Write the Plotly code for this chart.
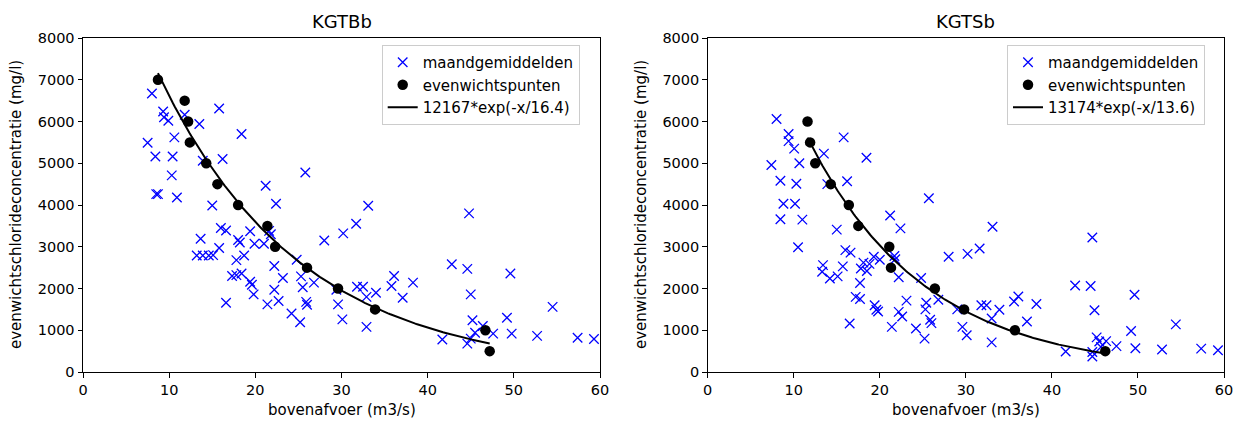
import numpy as np
import plotly.graph_objects as go
from plotly.subplots import make_subplots

# ---------------- KGTBb ----------------
kgtbb_maand_q = [
    7.5, 8.0, 8.4, 8.5, 8.7, 9.3, 9.4, 9.9, 10.4, 10.3, 10.6, 10.9, 11.8, 13.5, 13.9,
    15.8, 16.2, 18.4, 15.0, 21.2, 22.4, 25.8,
    13.65, 13.2, 13.9, 14.6, 15.1, 15.8, 16.0, 16.6, 18.0, 18.2, 19.4, 19.9, 21.0, 21.6,
    21.8, 17.8, 18.7, 22.2, 17.3, 17.8, 18.4, 19.4, 19.6, 19.8, 23.2, 25.3, 25.5, 26.8,
    24.8, 22.2, 22.7, 21.4, 16.6, 25.9, 26.0, 24.2, 25.2,
    28.0, 30.2, 31.7, 33.1, 29.4, 29.6, 30.1, 31.8, 32.5, 32.9, 34.0, 32.9, 36.1, 35.8,
    38.3, 37.1, 41.7, 42.8, 44.6, 44.8, 45.0, 45.2, 46.4, 45.5, 47.6, 49.2, 49.6, 49.75,
    52.7, 54.5, 57.4, 59.3, 44.6, 45.0,
]
kgtbb_maand_cl = [
    5490, 6670, 5160, 4260, 4260, 6240, 6100, 6020, 5160, 4710, 5620, 4180, 6160, 5940, 5060,
    6310, 5100, 5700, 3990, 4460, 4030, 4780,
    3190, 2790, 2790, 2790, 2800, 2970, 3450, 3390, 3160, 3100, 3370, 3070, 3070, 3380,
    3300, 2680, 2790, 2540, 2300, 2320, 2360, 2160, 2090, 1860, 2250, 2290, 2030, 2140,
    2690, 1970, 1700, 1620, 1660, 1680, 1610, 1400, 1190,
    3150, 3320, 3550, 3980, 1970, 1620, 1260, 2040, 2040, 1800, 1900, 1080, 2300, 2060,
    2140, 1780, 780, 2580, 2470, 3800, 1860, 1240, 1100, 940, 920, 1300, 2360, 920,
    865, 1560, 820, 790, 680, 800,
]
kgtbb_even_q = [8.7, 11.8, 12.2, 12.4, 14.3, 15.6, 18.0, 21.4, 22.3, 26.0, 29.6, 33.9, 46.7, 47.2]
kgtbb_even_cl = [7000, 6500, 6000, 5500, 5000, 4500, 4000, 3500, 3000, 2500, 2000, 1500, 1000, 500]
kgtbb_fit_a = 12167
kgtbb_fit_tau = 16.4

# ---------------- KGTSb ----------------
kgtsb_maand_q = [
    7.4, 8.0, 8.45, 8.45, 8.8, 9.4, 9.4, 10.05, 10.3, 10.15, 10.65, 11.0, 10.5, 13.5, 13.9,
    15.8, 16.2, 18.45, 15.0, 21.2, 22.4, 25.7, 33.1, 28.0, 30.2, 31.6,
    16.0, 16.6, 13.4, 13.3, 14.2, 15.1, 15.7, 17.8, 18.1, 18.5, 18.8, 19.3, 20.0, 21.7,
    21.8, 17.7, 17.2, 17.7, 22.2, 24.8, 26.8, 19.4, 19.6, 19.8, 23.1, 22.2, 22.6, 16.5,
    21.4, 24.2, 25.4, 25.3, 25.85, 26.0, 25.2,
    29.0, 29.6, 30.1, 31.8, 32.4, 33.9, 33.0, 33.0, 35.6, 36.1, 37.1, 38.2, 41.6, 42.7,
    44.5, 44.7, 44.95, 45.2, 45.5, 46.3, 47.5, 44.7, 44.7, 45.7, 49.2, 49.6, 49.7, 52.8,
    54.4, 57.35, 59.3,
]
kgtsb_maand_cl = [
    4960, 6060, 4580, 3660, 4030, 5700, 5530, 5350, 4510, 4030, 5000, 3650, 2990, 5230, 4500,
    5620, 4570, 5130, 3410, 3750, 3440, 4160, 3480, 2760, 2830, 2960,
    2920, 2860, 2560, 2400, 2240, 2290, 2530, 2480, 2620, 2420, 2590, 2760, 2690, 2780,
    2700, 2130, 1800, 1750, 2270, 2250, 1730, 1600, 1490, 1450, 1710, 1440, 1330, 1160,
    1080, 1040, 1660, 1500, 1250, 1170, 800,
    1500, 1080, 880, 1600, 1600, 1490, 1280, 710, 1690, 1810, 1210, 1630, 490, 2070,
    2060, 3220, 1480, 830, 730, 740, 620, 480, 370, 600, 980, 1850, 570, 540,
    1140, 560, 520,
]
kgtsb_even_q = [11.6, 11.9, 12.5, 14.3, 16.4, 17.5, 21.1, 21.3, 26.4, 29.8, 35.7, 46.2]
kgtsb_even_cl = [6000, 5500, 5000, 4500, 4000, 3500, 3000, 2500, 2000, 1500, 1000, 500]
kgtsb_fit_a = 13174
kgtsb_fit_tau = 13.6

panels = [
    ("KGTBb", kgtbb_maand_q, kgtbb_maand_cl, kgtbb_even_q, kgtbb_even_cl,
     kgtbb_fit_a, kgtbb_fit_tau),
    ("KGTSb", kgtsb_maand_q, kgtsb_maand_cl, kgtsb_even_q, kgtsb_even_cl,
     kgtsb_fit_a, kgtsb_fit_tau),
]

W, H = 1241, 421
FONT = "DejaVu Sans"
x_domains = [[83 / W, 600 / W], [707.7 / W, 1224 / W]]
y_domain = [1 - 372 / H, 1 - 38 / H]

fig = make_subplots(rows=1, cols=2)

for i, (name, mq, mcl, eq, ecl, a, tau) in enumerate(panels):
    col = i + 1
    leg = "legend" if i == 0 else "legend2"
    fig.add_trace(go.Scatter(
        x=mq, y=mcl, mode="markers", name="maandgemiddelden", legend=leg,
        marker=dict(symbol="x-thin-open", size=9.5, color="#0000ff",
                    line=dict(width=1.3, color="#0000ff")),
    ), row=1, col=col)
    fig.add_trace(go.Scatter(
        x=eq, y=ecl, mode="markers", name="evenwichtspunten", legend=leg,
        marker=dict(symbol="circle", size=10.5, color="black"),
    ), row=1, col=col)
    # fitted exponential, drawn over the span of the equilibrium points
    xf = np.linspace(min(eq), max(eq), 200)
    yf = a * np.exp(-xf / tau)
    fig.add_trace(go.Scatter(
        x=xf, y=yf, mode="lines", name=f"{a}*exp(-x/{tau})", legend=leg,
        line=dict(color="black", width=2),
    ), row=1, col=col)

axis_common = dict(
    showgrid=False, zeroline=False, showline=True, linecolor="black", linewidth=1,
    mirror=True, ticks="outside", ticklen=4.5, tickwidth=1, tickcolor="black",
    tickfont=dict(family=FONT, size=14.5, color="black"), automargin=False,
)
for i in range(2):
    fig.update_xaxes(range=[0, 60], tick0=0, dtick=10, domain=x_domains[i],
                     row=1, col=i + 1, **axis_common)
    fig.update_yaxes(range=[0, 8000], tick0=0, dtick=1000, domain=y_domain,
                     row=1, col=i + 1, **axis_common)

annotations = []
for i, (name, *_rest) in enumerate(panels):
    xc = (x_domains[i][0] + x_domains[i][1]) / 2
    annotations.append(dict(text=name, x=xc, y=1 - 21.5 / H, xref="paper", yref="paper",
                            showarrow=False, xanchor="center", yanchor="middle",
                            font=dict(family=FONT, size=18, color="black")))
    annotations.append(dict(text="bovenafvoer (m3/s)", x=xc, y=1 - 410 / H,
                            xref="paper", yref="paper", showarrow=False,
                            xanchor="center", yanchor="middle",
                            font=dict(family=FONT, size=15, color="black")))
    ylx = (16 if i == 0 else 641) / W
    annotations.append(dict(text="evenwichtschlorideconcentratie (mg/l)", x=ylx,
                            y=(y_domain[0] + y_domain[1]) / 2, xref="paper", yref="paper",
                            showarrow=False, textangle=-90, xanchor="center",
                            yanchor="middle",
                            font=dict(family=FONT, size=15, color="black")))

legend_common = dict(
    xanchor="left", yanchor="top", bgcolor="rgba(255,255,255,0.85)",
    bordercolor="#cccccc", borderwidth=1,
    font=dict(family=FONT, size=15, color="black"), itemwidth=30,
)
fig.update_layout(
    width=W, height=H, margin=dict(l=0, r=0, t=0, b=0),
    paper_bgcolor="white", plot_bgcolor="white", showlegend=True,
    legend=dict(x=381.7 / W, y=1 - 45 / H, **legend_common),
    legend2=dict(x=1007 / W, y=1 - 45 / H, **legend_common),
    annotations=annotations,
)

fig.write_html("out.html")
